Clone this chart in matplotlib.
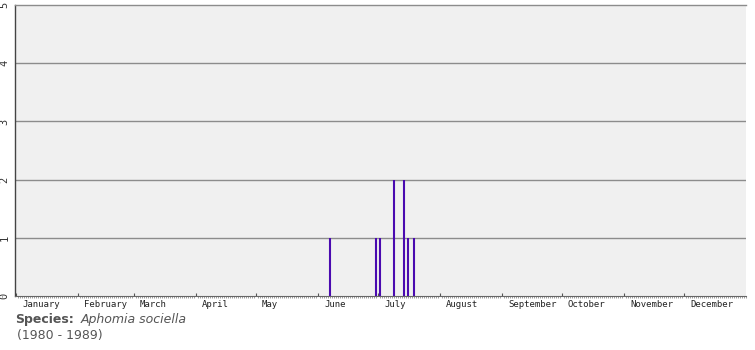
import matplotlib
matplotlib.use("Agg")
import matplotlib.pyplot as plt
import numpy as np

# Data
days = [157, 180, 182, 189, 194, 196, 199]   # day of year (0 = 1 Jan)
counts = [1, 1, 1, 2, 2, 1, 1]
month_names = ["January", "February", "March", "April", "May", "June",
               "July", "August", "September", "October", "November", "December"]
month_starts = [0, 31, 59, 90, 120, 151, 181, 212, 243, 273, 304, 334]
y_ticks = [0, 1, 2, 3, 4, 5]

W, H = 755, 350
fig = plt.figure(figsize=(W / 100, H / 100), dpi=100)
ax = fig.add_axes([15 / W, (H - 296) / H, (746 - 15) / W, (296 - 5) / H])
ax.set_facecolor("#f0f0f0")

ax.set_xlim(-0.5, 365)
ax.set_ylim(0, 5)

for y in y_ticks[1:5]:
    ax.axhline(y, color="#8c8c8c", lw=1.0, zorder=1)

ax.vlines(days, 0, counts, color="#4a0ab0", lw=1.5, zorder=3)

# spines
ax.spines["right"].set_visible(False)
ax.spines["top"].set_color("#8c8c8c")
ax.spines["top"].set_linewidth(1.0)
ax.spines["left"].set_color("#444444")
ax.spines["left"].set_linewidth(1.0)
ax.spines["bottom"].set_color("#666666")
ax.spines["bottom"].set_linewidth(0.8)

# y ticks
ax.set_yticks(y_ticks)
ax.set_yticklabels([str(v) for v in y_ticks], rotation=90, va="center",
                   fontsize=7.5, color="#333333", family="DejaVu Sans Mono")
ax.tick_params(axis="y", length=0, pad=4)

# x ticks: major at month starts, minor at each day
ax.set_xticks(month_starts)
ax.set_xticklabels([""] * 12)
ax.set_xticks(np.arange(0, 366), minor=True)
ax.tick_params(axis="x", which="major", direction="in", length=2, color="#555555", width=0.8)
ax.tick_params(axis="x", which="minor", direction="out", length=1.5, color="#777777", width=0.5)

for name, start in zip(month_names, month_starts):
    ax.text(start + 3, -0.07, name, transform=ax.transData, ha="left", va="top",
            fontsize=6.5, color="#222222", family="DejaVu Sans Mono", clip_on=False)

fig.text(15 / W, 1 - 320 / H, "Species:", fontsize=9, fontweight="bold",
         color="#555555", va="center", ha="left")
fig.text(81 / W, 1 - 320 / H, "Aphomia sociella", fontsize=9, style="italic",
         color="#555555", va="center", ha="left")
fig.text(17 / W, 1 - 335 / H, "(1980 - 1989)", fontsize=9,
         color="#555555", va="center", ha="left")

fig.savefig("out.png", dpi=100)
